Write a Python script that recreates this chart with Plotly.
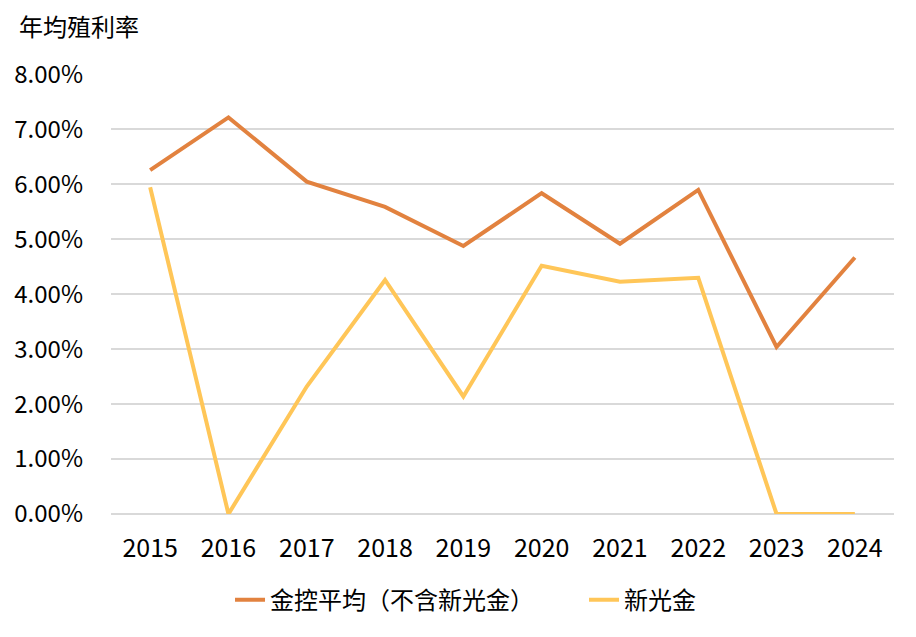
import plotly.graph_objects as go

years = ["2015", "2016", "2017", "2018", "2019", "2020", "2021", "2022", "2023", "2024"]
fhc_avg = [6.26, 7.22, 6.05, 5.59, 4.88, 5.84, 4.92, 5.90, 3.04, 4.67]
skf = [5.95, 0.0, 2.32, 4.26, 2.14, 4.52, 4.23, 4.30, 0.0, 0.0]
y_ticks = [0, 1, 2, 3, 4, 5, 6, 7, 8]
y_tick_text = [f"{v:.2f}%" for v in y_ticks]

FONT = "Noto Sans CJK TC, Noto Sans, sans-serif"

fig = go.Figure()
fig.add_trace(go.Scatter(x=years, y=fhc_avg, mode="lines", name="金控平均（不含新光金）",
                         line=dict(color="#E2823F", width=4), legendwidth=309))
fig.add_trace(go.Scatter(x=years, y=skf, mode="lines", name="新光金",
                         line=dict(color="#FFC658", width=4), legendwidth=80))

# page body has an 8px margin, so the figure is offset by 8px
fig.update_layout(
    width=916, height=637,
    paper_bgcolor="white", plot_bgcolor="white",
    margin=dict(l=103, r=30, t=66, b=131, autoexpand=False),
    font=dict(family=FONT, size=24, color="#000000"),
    showlegend=True,
    legend=dict(orientation="h", x=0.152, xanchor="left", y=-0.196, yanchor="middle",
                font=dict(size=24), traceorder="normal"),
    xaxis=dict(type="category", range=[-0.5, 9.5], showgrid=False, showline=False,
               ticks="", tickfont=dict(size=25), ticklabelstandoff=17),
    yaxis=dict(range=[0, 8.01], tickvals=y_ticks, ticktext=y_tick_text,
               showgrid=True, gridcolor="#D9D9D9", gridwidth=2,
               zeroline=True, zerolinecolor="#D9D9D9", zerolinewidth=2,
               showline=False, ticks="", tickfont=dict(size=24),
               ticklabelstandoff=27),
    annotations=[dict(text="年均殖利率", xref="paper", yref="paper",
                      x=-0.12, y=1.0, xanchor="left", yanchor="middle",
                      yshift=49, showarrow=False, font=dict(size=24))],
)

fig.write_html("out.html")
